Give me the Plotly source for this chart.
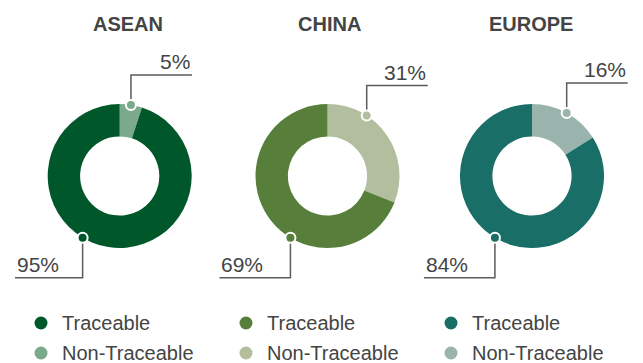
import math
import plotly.graph_objects as go

# Share of supply that can be traced back, by sourcing region (%)
regions = ["ASEAN", "CHINA", "EUROPE"]
traceable = [95, 69, 84]
non_traceable = [5, 31, 16]
segment_names = ["Traceable", "Non-Traceable"]
traceable_colors = ["#00582A", "#577F3B", "#196F67"]
non_traceable_colors = ["#7AAA8B", "#B2BE9E", "#9AB3AD"]

# Page geometry (pixels)
W, H = 643, 363
RING_CX = [119.7, 327.5, 532.0]
RING_CY = 176.0
RING_R = 72.0
HOLE = 0.55
TITLE_X = [127.5, 329.5, 531.0]
TITLE_Y = 24
LEGEND_X = [41, 246, 451]
LEGEND_Y = [323, 353]

FONT = "Liberation Sans, Arial, Helvetica, sans-serif"
TEXT_COLOR = "#444444"
LEADER_COLOR = "#5c5c5c"

fig = go.Figure()


def px_to_paper_x(v):
    return v / W


def px_to_paper_y(v):
    return 1 - v / H


shapes = []
annotations = []

for i, region in enumerate(regions):
    cx = RING_CX[i]
    # donut ring
    fig.add_trace(go.Pie(
        values=[non_traceable[i], traceable[i]],
        labels=[segment_names[1], segment_names[0]],
        marker=dict(colors=[non_traceable_colors[i], traceable_colors[i]],
                    line=dict(width=0)),
        hole=HOLE,
        sort=False,
        direction="clockwise",
        rotation=0,
        textinfo="none",
        hoverinfo="label+percent",
        showlegend=False,
        domain=dict(
            x=[px_to_paper_x(cx - RING_R), px_to_paper_x(cx + RING_R)],
            y=[px_to_paper_y(RING_CY + RING_R), px_to_paper_y(RING_CY - RING_R)],
        ),
    ))

    annotations.append(dict(
        x=TITLE_X[i], y=TITLE_Y, xref="x", yref="y",
        text=f"<b>{region}</b>", showarrow=False,
        xanchor="center", yanchor="middle",
        font=dict(family=FONT, size=20, color=TEXT_COLOR),
    ))

    # callout for the non-traceable share (upper right)
    total = traceable[i] + non_traceable[i]
    mid_nt = non_traceable[i] / total * 360 / 2
    a_top = math.radians(min(mid_nt, 33))
    tx = cx + RING_R * math.sin(a_top)
    ty = RING_CY - RING_R * math.cos(a_top)
    top_line_y = ty - 30
    top_end_x = tx + 61
    shapes.append(dict(type="path", xref="x", yref="y", layer="above",
                       path=f"M{tx},{ty} V{top_line_y} H{top_end_x}",
                       line=dict(color=LEADER_COLOR, width=1.5)))
    shapes.append(dict(type="circle", xref="x", yref="y", layer="above",
                       x0=tx - 5, x1=tx + 5, y0=ty - 5, y1=ty + 5,
                       fillcolor=non_traceable_colors[i],
                       line=dict(color="white", width=2)))
    annotations.append(dict(
        x=top_end_x, y=top_line_y - 13.5, xref="x", yref="y",
        text=f"{non_traceable[i]}%", showarrow=False,
        xanchor="right", yanchor="middle",
        font=dict(family=FONT, size=21, color=TEXT_COLOR),
    ))

    # callout for the traceable share (lower left)
    a_bot = math.radians(211)
    bx = cx + RING_R * math.sin(a_bot)
    by = RING_CY - RING_R * math.cos(a_bot)
    bot_line_y = by + 40
    bot_end_x = max(bx - 71, 15)
    shapes.append(dict(type="path", xref="x", yref="y", layer="above",
                       path=f"M{bx},{by} V{bot_line_y} H{bot_end_x}",
                       line=dict(color=LEADER_COLOR, width=1.5)))
    shapes.append(dict(type="circle", xref="x", yref="y", layer="above",
                       x0=bx - 5, x1=bx + 5, y0=by - 5, y1=by + 5,
                       fillcolor=traceable_colors[i],
                       line=dict(color="white", width=2)))
    annotations.append(dict(
        x=bot_end_x, y=bot_line_y - 13, xref="x", yref="y",
        text=f"{traceable[i]}%", showarrow=False,
        xanchor="left", yanchor="middle",
        font=dict(family=FONT, size=21, color=TEXT_COLOR),
    ))

    # legend entries for this region
    for row, (name, color) in enumerate(zip(segment_names,
                                            [traceable_colors[i], non_traceable_colors[i]])):
        fig.add_trace(go.Scatter(
            x=[LEGEND_X[i]], y=[LEGEND_Y[row]], mode="markers",
            marker=dict(size=13, color=color),
            hoverinfo="skip", showlegend=False,
        ))
        annotations.append(dict(
            x=LEGEND_X[i] + 19, y=LEGEND_Y[row], xref="x", yref="y",
            text=name, showarrow=False, xanchor="left", yanchor="middle",
            font=dict(family=FONT, size=20, color=TEXT_COLOR),
        ))

fig.update_layout(
    width=W, height=H, autosize=False,
    margin=dict(l=0, r=0, t=0, b=0),
    paper_bgcolor="white", plot_bgcolor="white",
    xaxis=dict(range=[0, W], visible=False, fixedrange=True),
    yaxis=dict(range=[H, 0], visible=False, fixedrange=True),
    shapes=shapes,
    annotations=annotations,
    showlegend=False,
)

fig.write_html("out.html")
